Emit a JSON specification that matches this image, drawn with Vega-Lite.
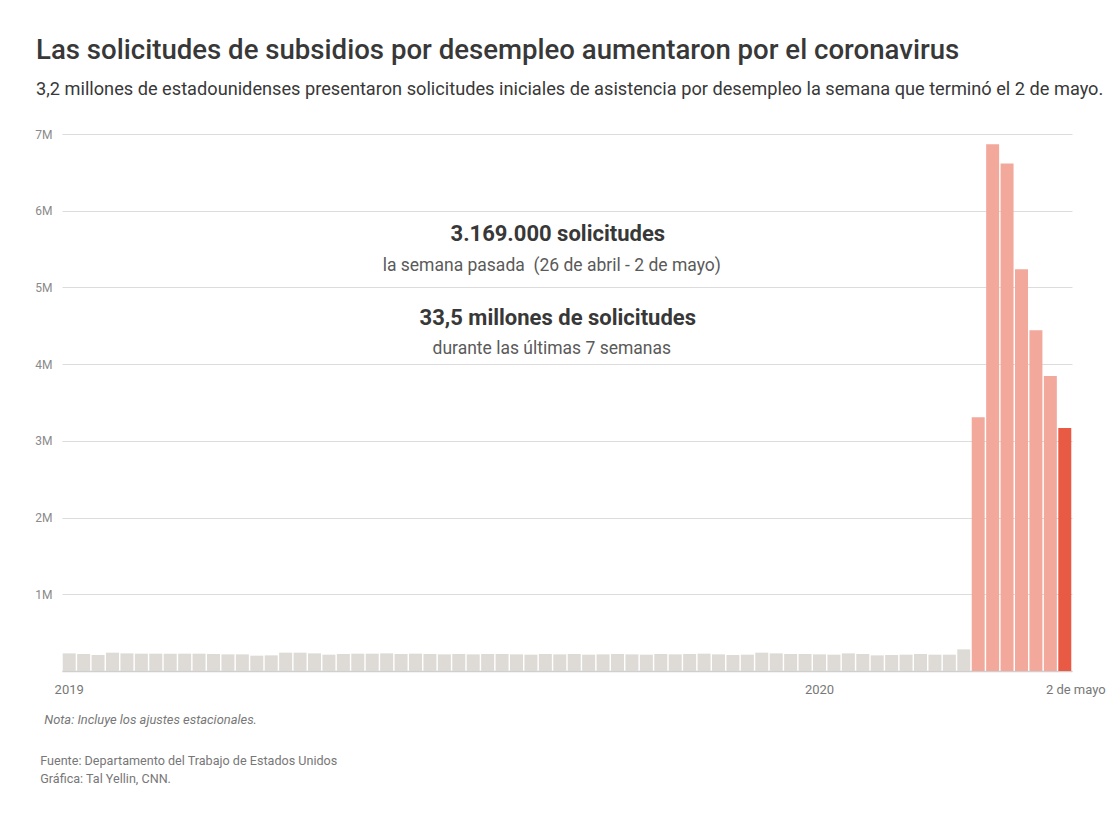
{
  "$schema": "https://vega.github.io/schema/vega-lite/v6.json",
  "width": 1010,
  "height": 537,
  "autosize": {"type": "none"},
  "padding": {"left": 62, "top": 134, "right": 38, "bottom": 143},
  "background": "white",
  "title": {
    "text": "Las solicitudes de subsidios por desempleo aumentaron por el coronavirus",
    "subtitle": "3,2 millones de estadounidenses presentaron solicitudes iniciales de asistencia por desempleo la semana que terminó el 2 de mayo.",
    "anchor": "start",
    "frame": "group",
    "dx": -26,
    "offset": 30,
    "font": "Roboto",
    "fontSize": 27.6,
    "fontWeight": 500,
    "color": "#383838",
    "subtitleFont": "Roboto",
    "subtitleFontSize": 18.2,
    "subtitleColor": "#383838",
    "subtitlePadding": 16
  },
  "datasets": {
    "semanas": [
      {"semana": "2019-01-05", "solicitudes": 230000, "grupo": "antes"},
      {"semana": "2019-01-12", "solicitudes": 222000, "grupo": "antes"},
      {"semana": "2019-01-19", "solicitudes": 209000, "grupo": "antes"},
      {"semana": "2019-01-26", "solicitudes": 239000, "grupo": "antes"},
      {"semana": "2019-02-02", "solicitudes": 230000, "grupo": "antes"},
      {"semana": "2019-02-09", "solicitudes": 226000, "grupo": "antes"},
      {"semana": "2019-02-16", "solicitudes": 226000, "grupo": "antes"},
      {"semana": "2019-02-23", "solicitudes": 226000, "grupo": "antes"},
      {"semana": "2019-03-02", "solicitudes": 226000, "grupo": "antes"},
      {"semana": "2019-03-09", "solicitudes": 226000, "grupo": "antes"},
      {"semana": "2019-03-16", "solicitudes": 222000, "grupo": "antes"},
      {"semana": "2019-03-23", "solicitudes": 217000, "grupo": "antes"},
      {"semana": "2019-03-30", "solicitudes": 217000, "grupo": "antes"},
      {"semana": "2019-04-06", "solicitudes": 200000, "grupo": "antes"},
      {"semana": "2019-04-13", "solicitudes": 204000, "grupo": "antes"},
      {"semana": "2019-04-20", "solicitudes": 239000, "grupo": "antes"},
      {"semana": "2019-04-27", "solicitudes": 239000, "grupo": "antes"},
      {"semana": "2019-05-04", "solicitudes": 230000, "grupo": "antes"},
      {"semana": "2019-05-11", "solicitudes": 213000, "grupo": "antes"},
      {"semana": "2019-05-18", "solicitudes": 222000, "grupo": "antes"},
      {"semana": "2019-05-25", "solicitudes": 226000, "grupo": "antes"},
      {"semana": "2019-06-01", "solicitudes": 226000, "grupo": "antes"},
      {"semana": "2019-06-08", "solicitudes": 230000, "grupo": "antes"},
      {"semana": "2019-06-15", "solicitudes": 222000, "grupo": "antes"},
      {"semana": "2019-06-22", "solicitudes": 226000, "grupo": "antes"},
      {"semana": "2019-06-29", "solicitudes": 222000, "grupo": "antes"},
      {"semana": "2019-07-06", "solicitudes": 217000, "grupo": "antes"},
      {"semana": "2019-07-13", "solicitudes": 222000, "grupo": "antes"},
      {"semana": "2019-07-20", "solicitudes": 217000, "grupo": "antes"},
      {"semana": "2019-07-27", "solicitudes": 222000, "grupo": "antes"},
      {"semana": "2019-08-03", "solicitudes": 222000, "grupo": "antes"},
      {"semana": "2019-08-10", "solicitudes": 217000, "grupo": "antes"},
      {"semana": "2019-08-17", "solicitudes": 213000, "grupo": "antes"},
      {"semana": "2019-08-24", "solicitudes": 222000, "grupo": "antes"},
      {"semana": "2019-08-31", "solicitudes": 217000, "grupo": "antes"},
      {"semana": "2019-09-07", "solicitudes": 222000, "grupo": "antes"},
      {"semana": "2019-09-14", "solicitudes": 213000, "grupo": "antes"},
      {"semana": "2019-09-21", "solicitudes": 217000, "grupo": "antes"},
      {"semana": "2019-09-28", "solicitudes": 222000, "grupo": "antes"},
      {"semana": "2019-10-05", "solicitudes": 217000, "grupo": "antes"},
      {"semana": "2019-10-12", "solicitudes": 213000, "grupo": "antes"},
      {"semana": "2019-10-19", "solicitudes": 222000, "grupo": "antes"},
      {"semana": "2019-10-26", "solicitudes": 217000, "grupo": "antes"},
      {"semana": "2019-11-02", "solicitudes": 222000, "grupo": "antes"},
      {"semana": "2019-11-09", "solicitudes": 226000, "grupo": "antes"},
      {"semana": "2019-11-16", "solicitudes": 217000, "grupo": "antes"},
      {"semana": "2019-11-23", "solicitudes": 209000, "grupo": "antes"},
      {"semana": "2019-11-30", "solicitudes": 213000, "grupo": "antes"},
      {"semana": "2019-12-07", "solicitudes": 239000, "grupo": "antes"},
      {"semana": "2019-12-14", "solicitudes": 230000, "grupo": "antes"},
      {"semana": "2019-12-21", "solicitudes": 222000, "grupo": "antes"},
      {"semana": "2019-12-28", "solicitudes": 222000, "grupo": "antes"},
      {"semana": "2020-01-04", "solicitudes": 217000, "grupo": "antes"},
      {"semana": "2020-01-11", "solicitudes": 213000, "grupo": "antes"},
      {"semana": "2020-01-18", "solicitudes": 230000, "grupo": "antes"},
      {"semana": "2020-01-25", "solicitudes": 222000, "grupo": "antes"},
      {"semana": "2020-02-01", "solicitudes": 204000, "grupo": "antes"},
      {"semana": "2020-02-08", "solicitudes": 209000, "grupo": "antes"},
      {"semana": "2020-02-15", "solicitudes": 213000, "grupo": "antes"},
      {"semana": "2020-02-22", "solicitudes": 222000, "grupo": "antes"},
      {"semana": "2020-02-29", "solicitudes": 213000, "grupo": "antes"},
      {"semana": "2020-03-07", "solicitudes": 213000, "grupo": "antes"},
      {"semana": "2020-03-14", "solicitudes": 282000, "grupo": "antes"},
      {"semana": "2020-03-21", "solicitudes": 3307000, "grupo": "crisis"},
      {"semana": "2020-03-28", "solicitudes": 6867000, "grupo": "crisis"},
      {"semana": "2020-04-04", "solicitudes": 6615000, "grupo": "crisis"},
      {"semana": "2020-04-11", "solicitudes": 5237000, "grupo": "crisis"},
      {"semana": "2020-04-18", "solicitudes": 4442000, "grupo": "crisis"},
      {"semana": "2020-04-25", "solicitudes": 3846000, "grupo": "crisis"},
      {"semana": "2020-05-02", "solicitudes": 3169000, "grupo": "ultima"}
    ],
    "cifras": [
      {"texto": "3.169.000 solicitudes", "semana": "2019-08-31", "valor": 5700000},
      {"texto": "33,5 millones de solicitudes", "semana": "2019-08-31", "valor": 4600000}
    ],
    "detalles": [
      {"texto": "la semana pasada \u00a0(26 de abril - 2 de mayo)", "semana": "2019-08-31", "valor": 5280000},
      {"texto": "durante las últimas 7 semanas", "semana": "2019-08-31", "valor": 4200000}
    ],
    "nota": [
      {"texto": "Nota: Incluye los ajustes estacionales.", "semana": "2019-01-05", "valor": -640000}
    ],
    "fuente": [
      {"texto": "Fuente: Departamento del Trabajo de Estados Unidos", "semana": "2019-01-05", "valor": -1170000},
      {"texto": "Gráfica: Tal Yellin, CNN.", "semana": "2019-01-05", "valor": -1405000}
    ]
  },
  "layer": [
    {
      "data": {"name": "semanas"},
      "mark": {"type": "bar"},
      "encoding": {
        "x": {
          "field": "semana",
          "type": "ordinal",
          "sort": null,
          "scale": {"paddingInner": 0.1, "paddingOuter": 0.05},
          "axis": {
            "title": null,
            "ticks": false,
            "labelOverlap": false,
            "labelAngle": 0,
            "labelPadding": 12,
            "labelFont": "Roboto",
            "labelFontSize": 13,
            "labelColor": "#777777",
            "domainColor": "#cfcfcf",
            "domainWidth": 1.5,
            "labelOffset": {"condition": {"test": "datum.value == '2020-05-02'", "value": 11}, "value": 0},
            "labelExpr": "datum.value == '2019-01-05' ? '2019' : datum.value == '2020-01-04' ? '2020' : datum.value == '2020-05-02' ? '2 de mayo' : ''"
          }
        },
        "y": {
          "field": "solicitudes",
          "type": "quantitative",
          "scale": {"domain": [0, 7000000], "nice": false},
          "axis": {
            "title": null,
            "values": [0, 1000000, 2000000, 3000000, 4000000, 5000000, 6000000, 7000000],
            "ticks": false,
            "domain": false,
            "labelPadding": 10,
            "labelFont": "Roboto",
            "labelFontSize": 12,
            "labelColor": "#8a8a8a",
            "gridColor": "#dcdcdc",
            "gridWidth": 1,
            "labelExpr": "datum.value == 0 ? '' : format(datum.value / 1000000, 'd') + 'M'"
          }
        },
        "color": {
          "field": "grupo",
          "type": "nominal",
          "scale": {"domain": ["antes", "crisis", "ultima"], "range": ["#dedbd6", "#f2a99c", "#e85a44"]},
          "legend": null
        }
      }
    },
    {
      "data": {"name": "cifras"},
      "mark": {"type": "text", "align": "center", "baseline": "middle", "dx": -2, "font": "Roboto", "fontSize": 22, "fontWeight": "bold", "color": "#383838"},
      "encoding": {
        "x": {"field": "semana", "type": "ordinal", "sort": null},
        "y": {"field": "valor", "type": "quantitative"},
        "text": {"field": "texto"}
      }
    },
    {
      "data": {"name": "detalles"},
      "mark": {"type": "text", "align": "center", "baseline": "middle", "dx": -8, "font": "Roboto", "fontSize": 17.5, "color": "#5a5a5a"},
      "encoding": {
        "x": {"field": "semana", "type": "ordinal", "sort": null},
        "y": {"field": "valor", "type": "quantitative"},
        "text": {"field": "texto"}
      }
    },
    {
      "data": {"name": "nota"},
      "mark": {"type": "text", "align": "left", "baseline": "middle", "dx": -25, "fontStyle": "italic", "fontSize": 12.9, "color": "#777777", "font": "Roboto"},
      "encoding": {
        "x": {"field": "semana", "type": "ordinal", "sort": null},
        "y": {"field": "valor", "type": "quantitative"},
        "text": {"field": "texto"}
      }
    },
    {
      "data": {"name": "fuente"},
      "mark": {"type": "text", "align": "left", "baseline": "middle", "dx": -29, "fontSize": 12.6, "color": "#777777", "font": "Roboto"},
      "encoding": {
        "x": {"field": "semana", "type": "ordinal", "sort": null},
        "y": {"field": "valor", "type": "quantitative"},
        "text": {"field": "texto"}
      }
    }
  ],
  "config": {
    "view": {"stroke": null},
    "axis": {"grid": true},
    "axisX": {"grid": false}
  }
}
